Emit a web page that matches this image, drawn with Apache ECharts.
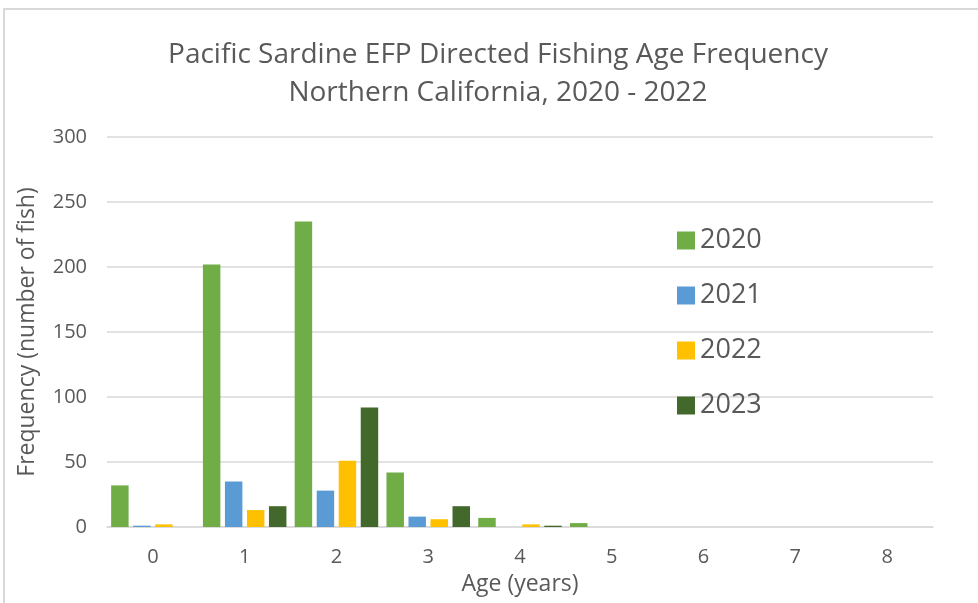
<!DOCTYPE html>
<html>
<head>
<meta charset="utf-8">
<script src="https://cdn.jsdelivr.net/npm/echarts@6/dist/echarts.min.js"></script>
<style>
  html, body { margin: 0; padding: 0; background: #fff; }
  #chart { width: 978px; height: 603px; }
</style>
</head>
<body>
<div id="chart"></div>
<script>
const ages = ['0', '1', '2', '3', '4', '5', '6', '7', '8'];
const years = ['2020', '2021', '2022', '2023'];
const freq2020 = [32, 202, 235, 42, 7, 3, 0, 0, 0];
const freq2021 = [1, 35, 28, 8, 0, 0, 0, 0, 0];
const freq2022 = [2, 13, 51, 6, 2, 0, 0, 0, 0];
const freq2023 = [0, 16, 92, 16, 1, 0, 0, 0, 0];
const yTicks = [0, 50, 100, 150, 200, 250, 300];

const palette = ['#70ad47', '#5b9bd5', '#ffc000', '#43682b'];
const font = 'Open Sans';
const textColor = '#595959';

const chart = echarts.init(document.getElementById('chart'));

const seriesData = [freq2020, freq2021, freq2022, freq2023];

chart.setOption({
    animation: false,
    color: palette,
    textStyle: { fontFamily: font, color: textColor },
    graphic: [{
        type: 'rect',
        shape: { x: 4, y: 9, width: 1000, height: 620 },
        style: { fill: 'none', stroke: '#d9d9d9', lineWidth: 2 },
        silent: true
    }],
    title: {
        text: 'Pacific Sardine EFP Directed Fishing Age Frequency\nNorthern California, 2020 - 2022',
        left: 493,
        textAlign: 'center',
        top: 31,
        textStyle: {
            fontFamily: font,
            fontSize: 28,
            fontWeight: 'normal',
            color: textColor,
            lineHeight: 38
        }
    },
    legend: {
        orient: 'vertical',
        left: 672,
        top: 220,
        itemWidth: 18,
        itemHeight: 18,
        itemGap: 24,
        icon: 'rect',
        data: years,
        textStyle: { fontFamily: font, fontSize: 27, color: textColor, lineHeight: 31 }
    },
    grid: { left: 107, right: 45, top: 137, bottom: 76 },
    xAxis: {
        type: 'category',
        data: ages,
        name: 'Age (years)',
        nameLocation: 'middle',
        nameGap: 46,
        nameTextStyle: { fontFamily: font, fontSize: 23, color: textColor },
        axisLine: { lineStyle: { color: '#d9d9d9', width: 1.5 } },
        axisTick: { show: false },
        axisLabel: { fontFamily: font, fontSize: 20, color: textColor, margin: 20 }
    },
    yAxis: {
        type: 'value',
        min: yTicks[0],
        max: yTicks[yTicks.length - 1],
        interval: 50,
        name: 'Frequency (number of fish)',
        nameLocation: 'middle',
        nameGap: 68,
        nameTextStyle: { fontFamily: font, fontSize: 23, color: textColor },
        axisLine: { show: false },
        axisTick: { show: false },
        axisLabel: { fontFamily: font, fontSize: 20, color: textColor, margin: 20 },
        splitLine: { lineStyle: { color: '#d9d9d9', width: 1.5 } }
    },
    series: years.map((y, i) => ({
        name: y,
        type: 'bar',
        data: seriesData[i],
        barGap: '26%',
        barCategoryGap: '9%'
    }))
});
</script>
</body>
</html>
